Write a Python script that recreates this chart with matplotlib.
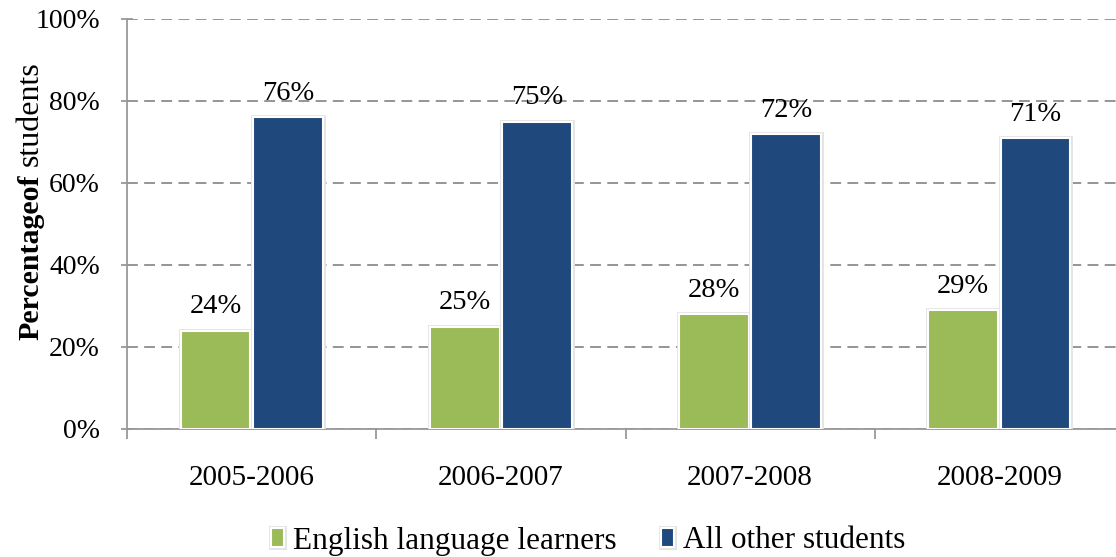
import numpy as np
import matplotlib
matplotlib.use('Agg')
import matplotlib.pyplot as plt
import matplotlib.patheffects as pe

plt.rcParams['font.family'] = ['Liberation Serif', 'DejaVu Serif']

years = ['2005-2006', '2006-2007', '2007-2008', '2008-2009']
ell = [24, 25, 28, 29]
others = [76, 75, 72, 71]
series_names = ['English language learners', 'All other students']
colors = ['#9BBB59', '#1F497D']

fig = plt.figure(figsize=(11.16, 5.57), dpi=100)
ax = fig.add_axes([127/1116, 128/557, 997/1116, 410/557])

x = np.arange(len(years))
w = 0.28
shadow = [pe.Stroke(linewidth=3.5, foreground='#e4e4e4'), pe.Normal()]
for off, vals, c, name in [(-w/2 - 0.005, ell, colors[0], series_names[0]),
                           (w/2 + 0.005, others, colors[1], series_names[1])]:
    bars = ax.bar(x + off, vals, w, color=c, edgecolor='white', linewidth=1.5,
                  label=name, zorder=3)
    for b in bars:
        b.set_path_effects(shadow)
    ax.bar_label(bars, labels=[f'{v}%' for v in vals], padding=8, fontsize=20.5)

ax.set_xlim(-0.5, len(years) - 0.5)
ax.set_ylim(0, 100)
ax.set_yticks(range(0, 101, 20))
ax.set_yticklabels([f'{v}%' for v in range(0, 101, 20)], fontsize=20)
ax.set_xticks(x)
ax.set_xticklabels(years, fontsize=21)
ax.set_xticks(np.arange(len(years) + 1) - 0.5, minor=True)

ax.tick_params(axis='x', which='major', length=0, pad=26)
ax.tick_params(axis='x', which='minor', length=7, direction='out', color='#999999', width=1.3)
ax.tick_params(axis='y', length=9, direction='inout', color='#999999', width=1.3, pad=15)

ax.yaxis.grid(True, linestyle=(0, (6, 3.5)), color='#8c8c8c', linewidth=1.3, zorder=0)
ax.set_axisbelow(True)
for s in ['top', 'right']:
    ax.spines[s].set_visible(False)
for s in ['left', 'bottom']:
    ax.spines[s].set_color('#999999')
    ax.spines[s].set_linewidth(1.3)

# y label: bold first word, regular second word, sharing one baseline
lx = 38/1116
fig.text(lx, (557 - 340)/557, 'Percentageof', rotation=90, rotation_mode='anchor',
         fontsize=21.5, fontweight='bold', ha='left', va='baseline')
fig.text(lx, (557 - 166)/557, 'students', rotation=90, rotation_mode='anchor',
         fontsize=23, ha='left', va='baseline')

fig.legend(loc='center', bbox_to_anchor=(0.527, 1 - 541/557), ncol=2, frameon=False,
           fontsize=22.5, handlelength=0.42, handleheight=0.6, handletextpad=0.3,
           columnspacing=1.4)

fig.savefig('out.png', dpi=100)
